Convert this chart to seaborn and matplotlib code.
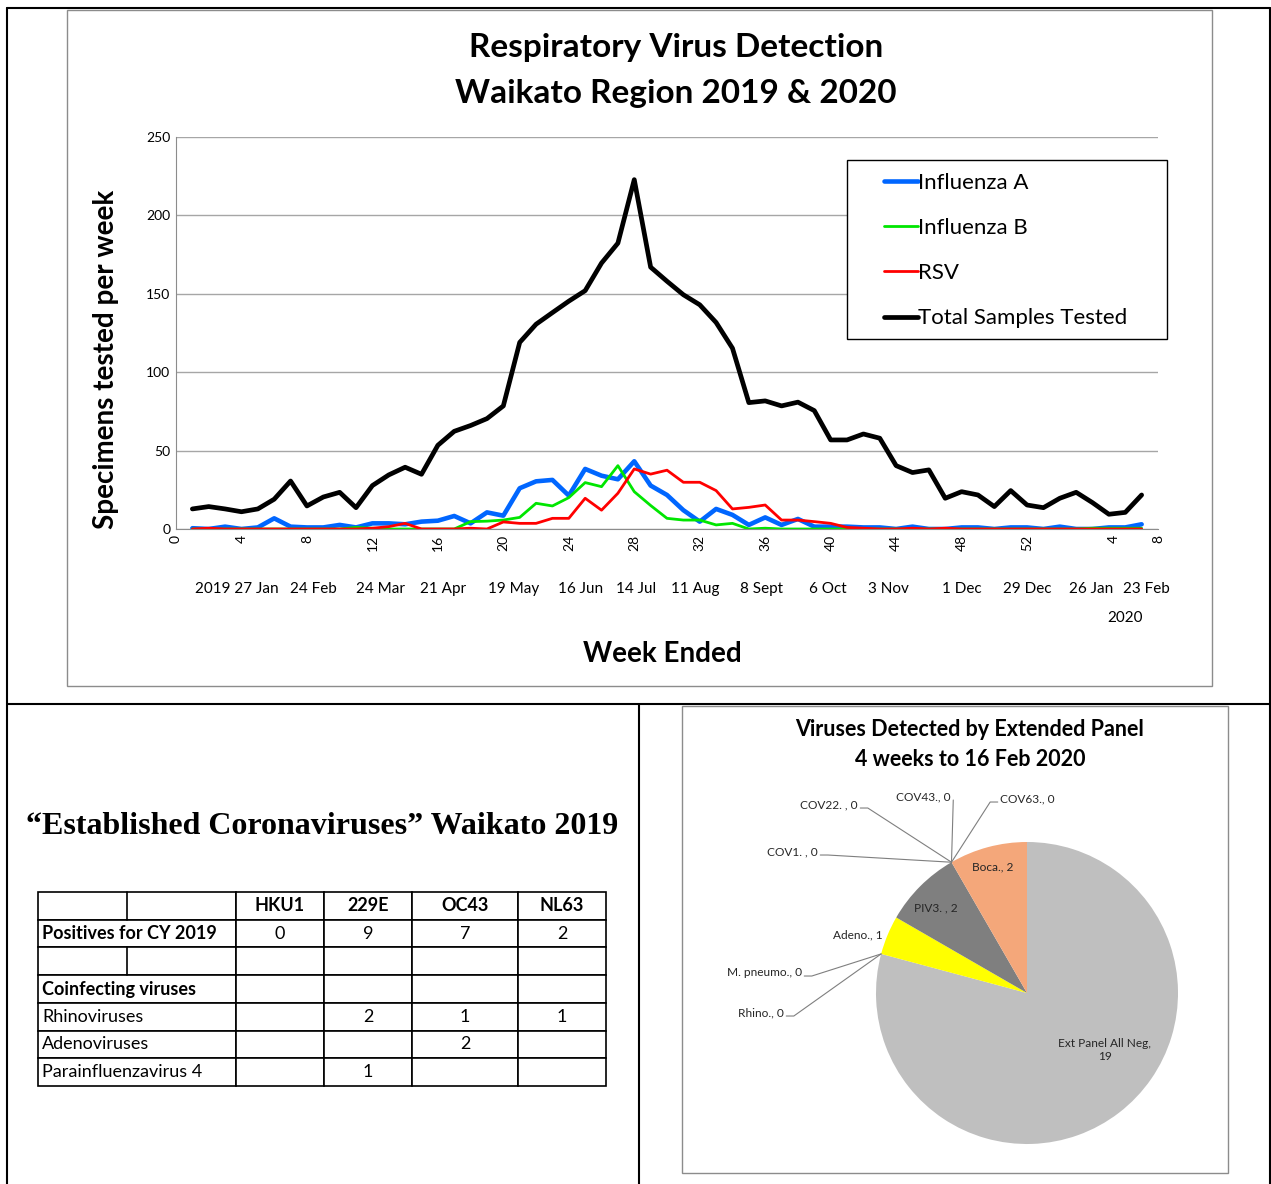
import numpy as np
import pandas as pd
import matplotlib
matplotlib.use('Agg')
import matplotlib.pyplot as plt
import seaborn as sns
from matplotlib.lines import Line2D
from matplotlib.patches import Rectangle

# weekly counts, week 1 = first week of 2019
weeks = list(range(1, 60))
influenza_a = [0.5, 0, 1.5, 0, 1, 6.8, 1.5, 1, 1, 2.6,
               1, 3.6, 3.6, 3, 4.7, 5.3, 8.3, 3.6, 10.6, 8.5,
               26, 30.4, 31.3, 21.3, 38.3, 34, 31.7, 43.2, 27.7, 21.7,
               12, 4.7, 12.8, 9, 2.6, 7.4, 2.6, 6.4, 1.5, 1.5,
               1.5, 1, 1, 0, 1.5, 0, 0, 1, 1, 0,
               1, 1, 0, 1.5, 0, 0, 1, 1, 3]
influenza_b = [0, 0, 0, 0, 0, 0, 0, 0, 0, 0,
               1, 0.5, 0, 0, 0, 0, 0, 4.7, 5, 5.7,
               7.4, 16.4, 14.7, 20, 29.6, 27, 40.4, 23.8, 15, 6.8,
               5.7, 5.7, 2.6, 3.6, 0, 0.5, 0, 0, 0, 0,
               0, 0, 0, 0, 0, 0, 0, 0, 0, 0,
               0, 0, 0, 0, 0, 0.5, 0.5, 0.5, 0.5]
rsv = [0, 0.5, 0, 0, 0, 0, 0, 0, 0, 0,
       0, 0.5, 1.5, 3.6, 0, 0, 0, 0.5, 0, 4.5,
       3.6, 3.6, 6.8, 6.8, 19.6, 12, 22.8, 38.3, 35, 37.5,
       29.8, 29.8, 24.5, 12.8, 13.8, 15.3, 5.7, 5.7, 4.7, 3.6,
       1, 0.5, 0, 0, 0.5, 0, 0.5, 0, 0, 0,
       0, 0, 0, 0, 0, 0, 0, 0, 0]
total = [12.8, 14.3, 12.8, 11, 12.8, 19, 30.6, 14.7, 20.4, 23.4,
         13.6, 27.7, 34.5, 39.4, 34.9, 53.4, 62.3, 66, 70.4, 78.5,
         119, 130.6, 138, 145.3, 152, 169.6, 182.3, 222.8, 167, 158,
         149.4, 143, 131.7, 115.3, 80.6, 81.7, 78.5, 80.9, 75.5, 56.8,
         56.8, 60.6, 57.9, 40.4, 36, 37.7, 19.6, 23.8, 21.7, 14.3,
         24.5, 15.3, 13.6, 19.6, 23.4, 16.8, 9.4, 10.6, 21.7]

series_names = ['Influenza A', 'Influenza B', 'RSV', 'Total Samples Tested']
series_values = [influenza_a, influenza_b, rsv, total]
series_colors = ['#0066FF', '#00E600', '#FF0000', '#000000']
series_widths = [3.3, 2.0, 2.0, 3.4]

tick_weeks = [0, 4, 8, 12, 16, 20, 24, 28, 32, 36, 40, 44, 48, 52, 57.3, 60]
tick_labels = ['0', '4', '8', '12', '16', '20', '24', '28', '32', '36', '40',
               '44', '48', '52', '4', '8']
date_weeks = [3.7, 8.4, 12.5, 16.3, 20.6, 24.7, 28.1, 31.7, 35.8, 39.8, 43.5, 48, 52, 55.9, 59.3]
date_labels = ['2019 27 Jan', '24 Feb', '24 Mar', '21 Apr', '19 May', '16 Jun',
               '14 Jul', '11 Aug', '8 Sept', '6 Oct', '3 Nov', '1 Dec',
               '29 Dec', '26 Jan', '23 Feb']

# coronavirus table
table_header = ['', 'HKU1', '229E', 'OC43', 'NL63']
table_rows = [
    ['Positives for CY 2019', '0', '9', '7', '2'],
    ['', '', '', '', ''],
    ['Coinfecting viruses', '', '', '', ''],
    ['Rhinoviruses', '', '2', '1', '1'],
    ['Adenoviruses', '', '', '2', ''],
    ['Parainfluenzavirus 4', '', '1', '', ''],
]
bold_rows = [0, 1, 3]

# extended panel pie
pie_names = ['Ext Panel All Neg', 'Rhino.', 'M. pneumo.', 'Adeno.', 'PIV3. ',
             'COV1. ', 'COV22. ', 'COV43.', 'COV63.', 'Boca.']
pie_values = [19, 0, 0, 1, 2, 0, 0, 0, 0, 2]
pie_colors = ['#BFBFBF', '#4472C4', '#ED7D31', '#FFFF00', '#7F7F7F',
              '#5B9BD5', '#70AD47', '#264478', '#9E480E', '#F4A77A']

W, H = 1271, 1184
fx = lambda px: px / W
fy = lambda py: 1 - py / H

sns.set_style('white')
plt.rcParams['font.family'] = ['Lato', 'DejaVu Sans']
plt.rcParams.update({'text.color': 'black', 'axes.labelcolor': 'black',
                     'xtick.color': 'black', 'ytick.color': 'black'})

fig = plt.figure(figsize=(W / 100, H / 100), dpi=100)

# outer frame lines
for (x1, y1, x2, y2) in [(7, 8, 1270, 8), (7, 8, 7, 1184), (1270, 8, 1270, 1184),
                         (7, 704, 1270, 704), (639, 704, 639, 1184)]:
    fig.add_artist(Line2D([fx(x1), fx(x2)], [fy(y1), fy(y2)], color='black', lw=1.5))
fig.add_artist(Rectangle((fx(67), fy(686)), fx(1212) - fx(67), fy(10) - fy(686),
                         fill=False, ec='#8C8C8C', lw=1, transform=fig.transFigure))
fig.add_artist(Rectangle((fx(682), fy(1173)), fx(1228) - fx(682), fy(706) - fy(1173),
                         fill=False, ec='#8C8C8C', lw=1, transform=fig.transFigure))

# ---- line chart ----
ax = fig.add_axes([fx(176), fy(529), fx(1158) - fx(176), fy(137) - fy(529)])
for name, vals, c, lw in zip(series_names, series_values, series_colors, series_widths):
    sns.lineplot(x=weeks, y=vals, color=c, lw=lw, label=name, ax=ax)
ax.set_xlim(0, 60)
ax.set_ylim(0, 250)
ax.set_yticks([0, 50, 100, 150, 200, 250])
ax.set_yticklabels(['0', '50', '100', '150', '200', '250'], fontsize=10)
ax.set_xticks(tick_weeks)
ax.set_xticklabels(tick_labels, rotation=90, fontsize=10)
ax.tick_params(axis='both', length=0, pad=4)
ax.grid(axis='y', color='#A6A6A6', lw=1)
for s in ['top', 'right']:
    ax.spines[s].set_visible(False)
for s in ['left', 'bottom']:
    ax.spines[s].set_color('#8C8C8C')
ax.set_ylabel('Specimens tested per week', fontsize=20, fontweight='bold')
ax.yaxis.set_label_coords(-0.058, 0.432)
ax.set_xlabel('Week Ended', fontsize=20, fontweight='bold')
ax.xaxis.set_label_coords(0.495, -0.285)
for wk, lab in zip(date_weeks, date_labels):
    ax.text(wk, -0.153, lab, transform=ax.get_xaxis_transform(), ha='center',
            va='center', fontsize=11)
ax.text(58, -0.228, '2020', transform=ax.get_xaxis_transform(), ha='center',
        va='center', fontsize=11)

ax.add_patch(Rectangle((fx(847), fy(339)), fx(1167) - fx(847), fy(160) - fy(339),
                       fc='white', ec='black', lw=1, transform=fig.transFigure,
                       zorder=4, clip_on=False))
leg = ax.legend(loc='upper left', bbox_to_anchor=(fx(884), fy(173)),
                bbox_transform=fig.transFigure, frameon=False, fontsize=16,
                handlelength=1.55, handletextpad=0.0, labelspacing=1.13,
                borderpad=0, borderaxespad=0)
leg.set_zorder(5)

fig.text(fx(676), fy(48), 'Respiratory Virus Detection', ha='center', va='center',
         fontsize=24, fontweight='bold')
fig.text(fx(676), fy(93), 'Waikato Region 2019 & 2020', ha='center', va='center',
         fontsize=24, fontweight='bold')

# ---- coronavirus table ----
fig.text(fx(322), fy(826), '\u201cEstablished Coronaviruses\u201d Waikato 2019',
         ha='center', va='center', fontsize=23, fontweight='bold',
         family=['Liberation Serif', 'DejaVu Serif'])
tax = fig.add_axes([fx(38), fy(1086), fx(606) - fx(38), fy(892) - fy(1086)])
tax.axis('off')
col_w = np.array([198, 88, 88, 106, 88]) / 568
tbl = tax.table(cellText=table_rows, colLabels=table_header, colWidths=list(col_w),
                bbox=[0, 0, 1, 1], cellLoc='center')
tbl.auto_set_font_size(False)
for (r, c), cell in tbl.get_celld().items():
    cell.set_edgecolor('black')
    cell.set_linewidth(1.2)
    txt = cell.get_text()
    txt.set_fontsize(13)
    if r == 0:
        txt.set_fontweight('bold')
    if c == 0:
        txt.set_ha('left')
        cell.PAD = 0.02
        cell._loc = 'left'
        if r in bold_rows:
            txt.set_fontweight('bold')
# split first column in header and blank row
split_x = (127 - 38) / 568
for r0, r1 in [(6 / 7, 1.0), (4 / 7, 5 / 7)]:
    tax.plot([split_x, split_x], [r0, r1], color='black', lw=1.2,
             transform=tax.transAxes, clip_on=False)

# ---- pie chart ----
R = 151
pax = fig.add_axes([fx(1027 - 167), fy(993 + 167), fx(334), 334 / H])
wedges, _ = pax.pie(pie_values, colors=pie_colors, startangle=90, counterclock=False,
                    radius=1, wedgeprops=dict(lw=0))
pax.set_xlim(-167 / R, 167 / R)
pax.set_ylim(-167 / R, 167 / R)
pax.set_aspect('equal')

pc = lambda px, py: ((px - 1027) / R, (993 - py) / R)
label_pos = [pc(1105, 1050), pc(784, 1013), pc(802, 973), pc(858, 935), pc(936, 908),
             pc(818, 852), pc(858, 805), pc(951, 797), pc(1000, 799), pc(993, 867)]
label_ha = ['center', 'right', 'right', 'center', 'center',
            'right', 'right', 'right', 'left', 'center']
for name, val, w, (tx, ty), ha in zip(pie_names, pie_values, wedges, label_pos, label_ha):
    if len(name) > 12:
        lab = f'{name},\n{val}'
    else:
        lab = f'{name}, {val}'
    pax.text(tx, ty, lab, ha=ha, va='center', fontsize=8.6, color='#262626')
    if val == 0:
        ang = np.deg2rad((w.theta1 + w.theta2) / 2)
        wx, wy = np.cos(ang), np.sin(ang)
        if ha == 'right':
            sx = tx + 0.015
            if name == 'COV43.':
                pts_x, pts_y = [sx, wx], [ty - 0.02, wy]
            else:
                pts_x, pts_y = [sx, sx + 0.05, wx], [ty - 0.02, ty - 0.02, wy]
        else:
            sx = tx - 0.015
            pts_x, pts_y = [sx, sx - 0.05, wx], [ty - 0.02, ty - 0.02, wy]
        pax.plot(pts_x, pts_y, color='#7F7F7F', lw=0.8, clip_on=False)

fig.text(fx(970), fy(730), 'Viruses Detected by Extended Panel', ha='center',
         va='center', fontsize=15.5, fontweight='bold')
fig.text(fx(970), fy(759), '4 weeks to 16 Feb 2020', ha='center',
         va='center', fontsize=15.5, fontweight='bold')

fig.savefig('out.png', dpi=100)
